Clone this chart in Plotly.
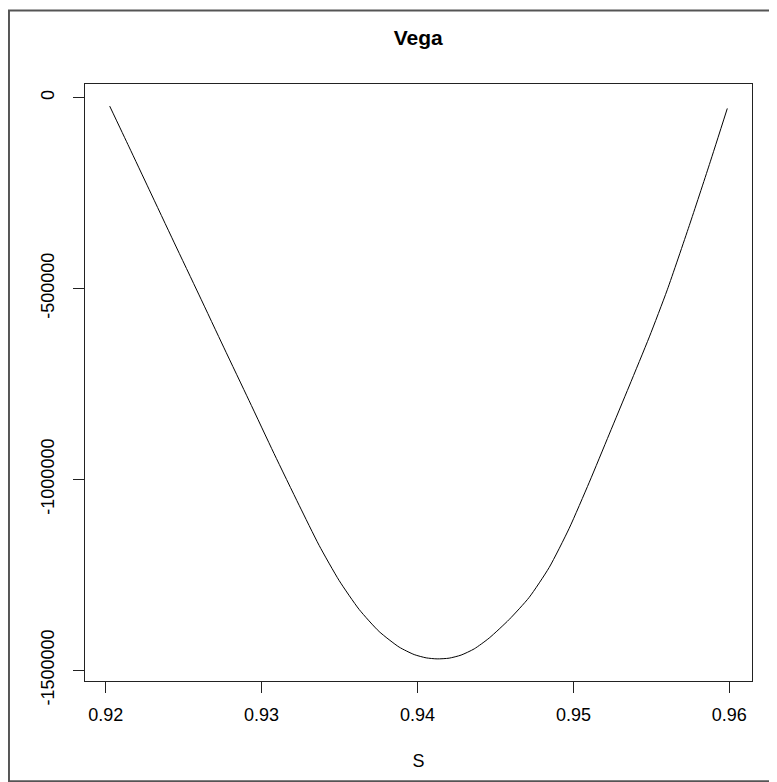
import plotly.graph_objects as go

# Data
S = [0.92026, 0.92150, 0.92278, 0.92438, 0.92599, 0.92759, 0.92920, 0.93080,
     0.93241, 0.93369, 0.93497, 0.93626, 0.93754, 0.93882, 0.93979, 0.94056,
     0.94126, 0.94203, 0.94280, 0.94364, 0.94460, 0.94588, 0.94716, 0.94845,
     0.94973, 0.95102, 0.95230, 0.95358, 0.95487, 0.95602, 0.95743, 0.95872,
     0.95987]
vega = [-22000, -128900, -239800, -378400, -516800, -655500, -793800, -932500,
        -1068000, -1173000, -1264900, -1341100, -1398900, -1439600, -1459300, -1467900,
        -1470600, -1468700, -1460600, -1444300, -1415900, -1367400, -1309600, -1230800,
        -1128400, -1007600, -881500, -755500, -626800, -503400, -335300, -175200,
        -28100]

x_ticks = [0.92, 0.93, 0.94, 0.95, 0.96]
x_ticktext = ["0.92", "0.93", "0.94", "0.95", "0.96"]
y_ticks = [0, -500000, -1000000, -1500000]
y_ticktext = ["0", "-500000", "-1000000", "-1500000"]

title_text = "Vega"
x_title = "S"

def padded(vals):
    lo, hi = min(vals), max(vals)
    p = 0.04 * (hi - lo)
    return [lo - p, hi + p]

# page offset caused by the default body margin of the html page
OFF = 8
W, H = 777 - OFF, 782 - OFF
# plot area in page pixels
PL, PT, PR, PB = 85, 84, 751.7, 680.7
L, T = PL - OFF, PT - OFF
R, B = W - (PR - OFF), H - (PB - OFF)
pw, ph = PR - PL, PB - PT

def px_to_paper_x(px):
    return (px - PL) / pw

def px_to_paper_y(py):
    return (PB - py) / ph

fig = go.Figure()
fig.add_trace(go.Scatter(x=S, y=vega, mode="lines",
                         line=dict(color="black", width=1, shape="spline", smoothing=0.6),
                         showlegend=False))

font_family = "Liberation Sans, Arial, sans-serif"
axis_common = dict(showgrid=False, zeroline=False, showline=True, mirror=True,
                   linecolor="#222", linewidth=1, ticks="outside", ticklen=11,
                   tickcolor="#222", tickwidth=1,
                   tickfont=dict(family=font_family, size=18, color="black"))

fig.update_layout(
    width=W, height=H,
    margin=dict(l=L, r=R, t=T, b=B, pad=0),
    paper_bgcolor="white", plot_bgcolor="white",
    title=dict(text="<b>" + title_text + "</b>", x=px_to_paper_x(418), xref="paper",
               xanchor="center", y=1 - (38 - OFF) / H, yanchor="middle",
               font=dict(family=font_family, size=21, color="black")),
    xaxis=dict(range=padded(S), tickvals=x_ticks, ticktext=x_ticktext,
               ticklabelstandoff=6,
               title=dict(text=x_title, standoff=30,
                          font=dict(family=font_family, size=18, color="black")),
               **axis_common),
    yaxis=dict(range=padded(vega), tickvals=y_ticks, ticktext=y_ticktext,
               tickangle=-90, ticklabelstandoff=12, **axis_common),
    shapes=[dict(type="rect", xref="paper", yref="paper",
                 x0=px_to_paper_x(9), x1=px_to_paper_x(776),
                 y0=px_to_paper_y(781), y1=px_to_paper_y(10.5),
                 line=dict(color="#555", width=2), fillcolor="rgba(0,0,0,0)",
                 layer="above")],
)

fig.write_html("out.html")
